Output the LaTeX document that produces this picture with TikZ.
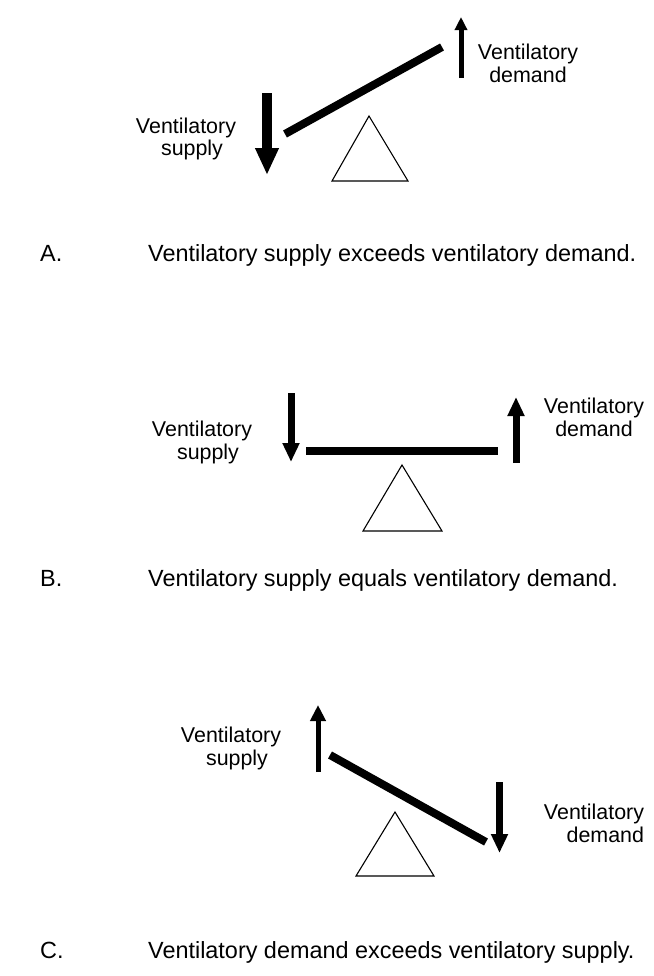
\documentclass[tikz,border=0pt]{standalone}
\usepackage{fontspec}
\setmainfont{Liberation Sans}
\usetikzlibrary{arrows.meta}
\newcommand{\supplyline}{\hspace*{12bp}supply}
\begin{document}
\begin{tikzpicture}[x=1bp,y=-1bp,
  lbl/.style={font=\fontsize{21.5}{23}\selectfont, align=center, inner sep=0pt},
  caption/.style={font=\fontsize{23.5}{26}\selectfont, anchor=base west, inner sep=0pt},
  beam/.style={line width=8bp, line cap=butt},
  pivot/.style={line width=1.1bp, line join=miter},
  heavyarrow/.style={line width=10bp, -{Triangle[width=22bp,length=27bp]}},
  thinarrow/.style={line width=5bp, -{Triangle[width=12bp,length=13bp]}},
  midarrow/.style={line width=7bp, -{Triangle[width=16bp,length=19bp]}},
  slimarrow/.style={line width=5bp, -{Triangle[width=15bp,length=16bp]}}]
\useasboundingbox (0,0) rectangle (654,976);

% ---------- A: supply exceeds demand ----------
\coordinate (aBeamL) at (285,134);
\coordinate (aBeamR) at (442,47);
\draw[beam] (aBeamL) -- (aBeamR);
\draw[pivot] (369,116) -- (408,181) -- (332,181) -- cycle;
\coordinate (aSupTop) at (267,93);
\coordinate (aSupTip) at (267,175);
\draw[heavyarrow] (aSupTop) -- (aSupTip);
\coordinate (aDemBot) at (461,78);
\coordinate (aDemTip) at (461,17);
\draw[thinarrow] (aDemBot) -- (aDemTip);
\node[lbl] (aSup) at (186,139) {Ventilatory\\\supplyline};
\node[lbl] (aDem) at (528,63) {Ventilatory\\demand};
\node[caption] (aTag) at (40,261) {A.};
\node[caption] (aCap) at (148,261) {Ventilatory supply exceeds ventilatory demand.};

% ---------- B: supply equals demand ----------
\coordinate (bBeamL) at (306,451);
\coordinate (bBeamR) at (498,451);
\draw[beam] (bBeamL) -- (bBeamR);
\draw[pivot] (402,465) -- (442,531) -- (363,531) -- cycle;
\coordinate (bSupTop) at (291,393);
\coordinate (bSupTip) at (291,462);
\draw[midarrow] (bSupTop) -- (bSupTip);
\coordinate (bDemBot) at (516,463);
\coordinate (bDemTip) at (516,397);
\draw[midarrow] (bDemBot) -- (bDemTip);
\node[lbl] (bSup) at (202,442) {Ventilatory\\\supplyline};
\node[lbl] (bDem) at (594,417) {Ventilatory\\demand};
\node[caption] (bTag) at (40,586) {B.};
\node[caption] (bCap) at (148,586) {Ventilatory supply equals ventilatory demand.};

% ---------- C: demand exceeds supply ----------
\coordinate (cBeamL) at (330,755);
\coordinate (cBeamR) at (486,842);
\draw[beam] (cBeamL) -- (cBeamR);
\draw[pivot] (395,812) -- (434,876) -- (356,876) -- cycle;
\coordinate (cSupBot) at (318,772);
\coordinate (cSupTip) at (318,705);
\draw[slimarrow] (cSupBot) -- (cSupTip);
\coordinate (cDemTop) at (499.5,782);
\coordinate (cDemTip) at (499.5,853);
\draw[midarrow] (cDemTop) -- (cDemTip);
\node[lbl] (cSup) at (231,748) {Ventilatory\\\supplyline};
\node[lbl, align=right] (cDem) at (594,823) {Ventilatory\\demand};
\node[caption] (cTag) at (40,958) {C.};
\node[caption] (cCap) at (148,958) {Ventilatory demand exceeds ventilatory supply.};
\end{tikzpicture}
\end{document}
